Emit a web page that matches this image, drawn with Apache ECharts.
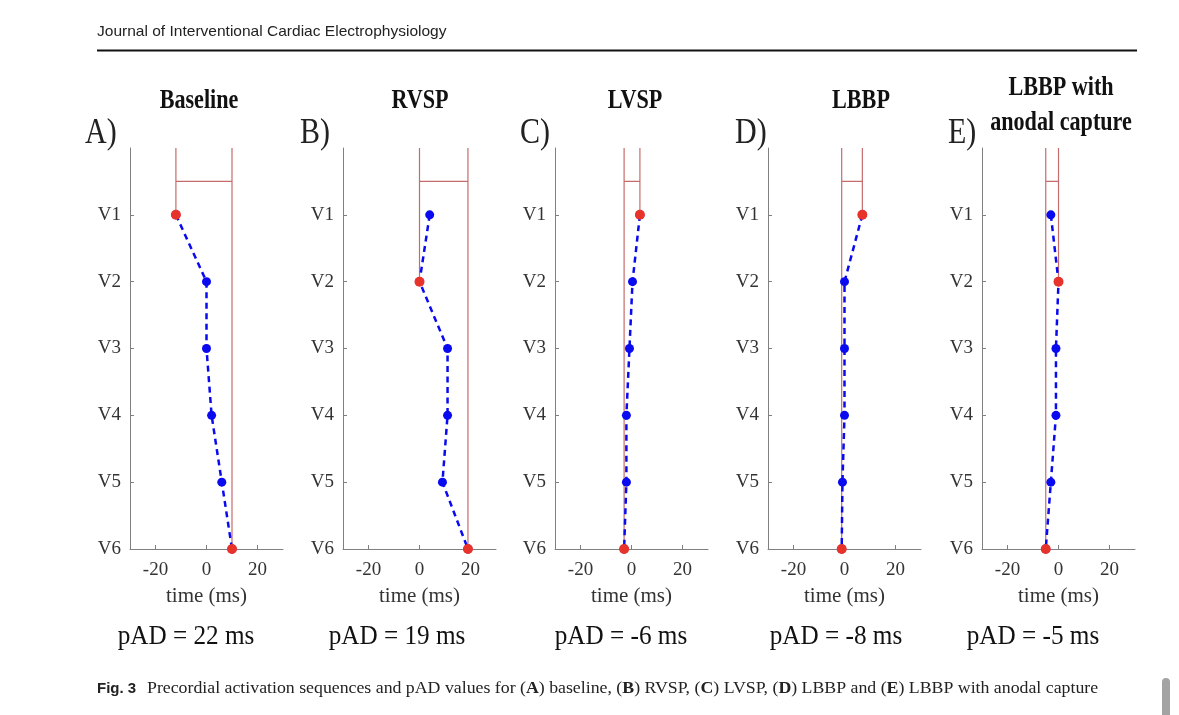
<!DOCTYPE html>
<html lang="en">
<head>
    <meta charset="UTF-8">
    <title>Precordial activation sequences - ECharts</title>
    <script src="https://cdn.jsdelivr.net/npm/echarts/dist/echarts.min.js"></script>
    <style>
        html, body { margin: 0; padding: 0; background: #fff; }
        #chart { width: 1179px; height: 715px; }
    </style>
</head>
<body>
<div id="chart"></div>
<script>
    // leads (y axis, top to bottom) and time ticks (x axis)
    var leads = ['V1', 'V2', 'V3', 'V4', 'V5', 'V6'];
    var timeTicks = [-20, 0, 20];

    // activation time per lead, ms
    var baseline = [-12, 0, 0, 2, 6, 10];
    var rvsp = [4, 0, 11, 11, 9, 19];
    var lvsp = [3.3, 0.4, -0.8, -2, -2, -2.9];
    var lbbp = [7, 0, 0, 0, -0.8, -1.1];
    var lbbpAnodal = [-3, 0, -1, -1, -3, -5];

    var panelData = [baseline, rvsp, lvsp, lbbp, lbbpAnodal];
    var panelLetters = ['A)', 'B)', 'C)', 'D)', 'E)'];
    var panelTitles = [['Baseline'], ['RVSP'], ['LVSP'], ['LBBP'], ['LBBP with', 'anodal capture']];
    var padValues = [22, 19, -6, -8, -5];

    var chart = echarts.init(document.getElementById('chart'));

    var gridLefts = [130, 343, 555, 768, 982];
    var gridTop = 148, gridW = 153, gridH = 401;
    var serif = '"Liberation Serif", "Times New Roman", serif';
    var axisGray = '#808080';
    var blue = '#0a0af0';
    var red = '#e8332b';
    var redLine = '#c56b6b';

    var grids = [], xAxes = [], yAxes = [], series = [], graphics = [];

    panelData.forEach(function (vals, i) {
        grids.push({ left: gridLefts[i], top: gridTop, width: gridW, height: gridH });

        xAxes.push({
            type: 'value', gridIndex: i, min: -30, max: 30, position: 'bottom',
            name: 'time (ms)', nameLocation: 'middle', nameGap: 37,
            nameTextStyle: { fontFamily: serif, fontSize: 21, color: '#333' },
            axisLine: { onZero: false, lineStyle: { color: axisGray } },
            axisTick: { inside: true, length: 4, customValues: timeTicks, lineStyle: { color: axisGray } },
            axisLabel: { customValues: timeTicks, margin: 12, fontFamily: serif, fontSize: 19, color: '#333' },
            splitLine: { show: false }
        });

        yAxes.push({
            type: 'value', gridIndex: i, min: 0, max: 6, inverse: true, position: 'left',
            axisLine: { show: true, onZero: false, lineStyle: { color: axisGray } },
            axisTick: { show: true, inside: true, length: 4, customValues: [1, 2, 3, 4, 5, 6], lineStyle: { color: axisGray } },
            axisLabel: {
                customValues: [1, 2, 3, 4, 5, 6], margin: 9,
                fontFamily: serif, fontSize: 19, color: '#333',
                formatter: function (v) { return leads[v - 1]; }
            },
            splitLine: { show: false }
        });

        var pts = vals.map(function (v, j) { return [v, j + 1]; });
        var minI = 0, maxI = 0;
        vals.forEach(function (v, j) {
            if (v < vals[minI]) minI = j;
            if (v > vals[maxI]) maxI = j;
        });
        var lo = vals[minI], hi = vals[maxI];

        // red bracket: earliest and latest activation
        series.push({
            type: 'line', xAxisIndex: i, yAxisIndex: i, z: 1, silent: true,
            showSymbol: false,
            lineStyle: { color: redLine, width: 1.2 },
            data: [[lo, minI + 1], [lo, 0], [lo, 0.5], [hi, 0.5], [hi, 0], [hi, maxI + 1]]
        });
        series.push({
            type: 'line', xAxisIndex: i, yAxisIndex: i, z: 2,
            symbol: 'circle', symbolSize: 9,
            itemStyle: { color: blue },
            lineStyle: { color: blue, width: 2.5, type: [6, 4.5] },
            data: pts
        });
        series.push({
            type: 'scatter', xAxisIndex: i, yAxisIndex: i, z: 3,
            symbolSize: 10,
            itemStyle: { color: red, opacity: 1 },
            data: [pts[minI], pts[maxI]]
        });
    });

    // header
    graphics.push({
        type: 'text', x: 97, y: 32, scaleX: 1.035,
        style: { text: 'Journal of Interventional Cardiac Electrophysiology', font: '15px "Liberation Sans", sans-serif', fill: '#222', textVerticalAlign: 'middle' }
    });
    graphics.push({ type: 'rect', shape: { x: 97, y: 49.5, width: 1040, height: 2 }, style: { fill: '#111' } });

    // panel letters, titles, pAD values
    var letterX = [85, 300, 520, 735, 948];
    var titleX = [199, 420, 635, 861, 1061];
    var padX = [186, 397, 621, 836, 1033];
    panelLetters.forEach(function (t, i) {
        graphics.push({
            type: 'text', x: letterX[i], y: 134, scaleY: 1.2,
            style: { text: t, font: '30px ' + serif, fill: '#222', textVerticalAlign: 'middle' }
        });
        var lines = panelTitles[i];
        var ys = lines.length === 1 ? [101] : [88, 123];
        lines.forEach(function (line, k) {
            graphics.push({
                type: 'text', x: titleX[i], y: ys[k], scaleX: 0.82,
                style: { text: line, font: 'bold 27px ' + serif, fill: '#111', textAlign: 'center', textVerticalAlign: 'middle' }
            });
        });
        graphics.push({
            type: 'text', x: padX[i], y: 637, scaleX: 0.9,
            style: { text: 'pAD = ' + padValues[i] + ' ms', font: '28px ' + serif, fill: '#111', textAlign: 'center', textVerticalAlign: 'middle' }
        });
    });

    // caption
    graphics.push({
        type: 'text', x: 97, y: 689,
        style: { text: 'Fig. 3', font: 'bold 15px "Liberation Sans", sans-serif', fill: '#222', textVerticalAlign: 'middle' }
    });
    graphics.push({
        type: 'text', x: 147, y: 689, scaleX: 1.112,
        style: {
            text: '{t|Precordial activation sequences and pAD values for (}{b|A}{t|) baseline, (}{b|B}{t|) RVSP, (}{b|C}{t|) LVSP, (}{b|D}{t|) LBBP and (}{b|E}{t|) LBBP with anodal capture}',
            textVerticalAlign: 'middle',
            rich: {
                t: { fontFamily: serif, fontSize: 16, fill: '#222' },
                b: { fontFamily: serif, fontWeight: 'bold', fontSize: 16, fill: '#222' }
            }
        }
    });
    graphics.push({ type: 'rect', shape: { x: 1162, y: 678, width: 8, height: 42, r: 4 }, style: { fill: '#a3a3a3' } });

    chart.setOption({
        animation: false,
        grid: grids,
        xAxis: xAxes,
        yAxis: yAxes,
        series: series,
        graphic: graphics
    });
</script>
</body>
</html>
